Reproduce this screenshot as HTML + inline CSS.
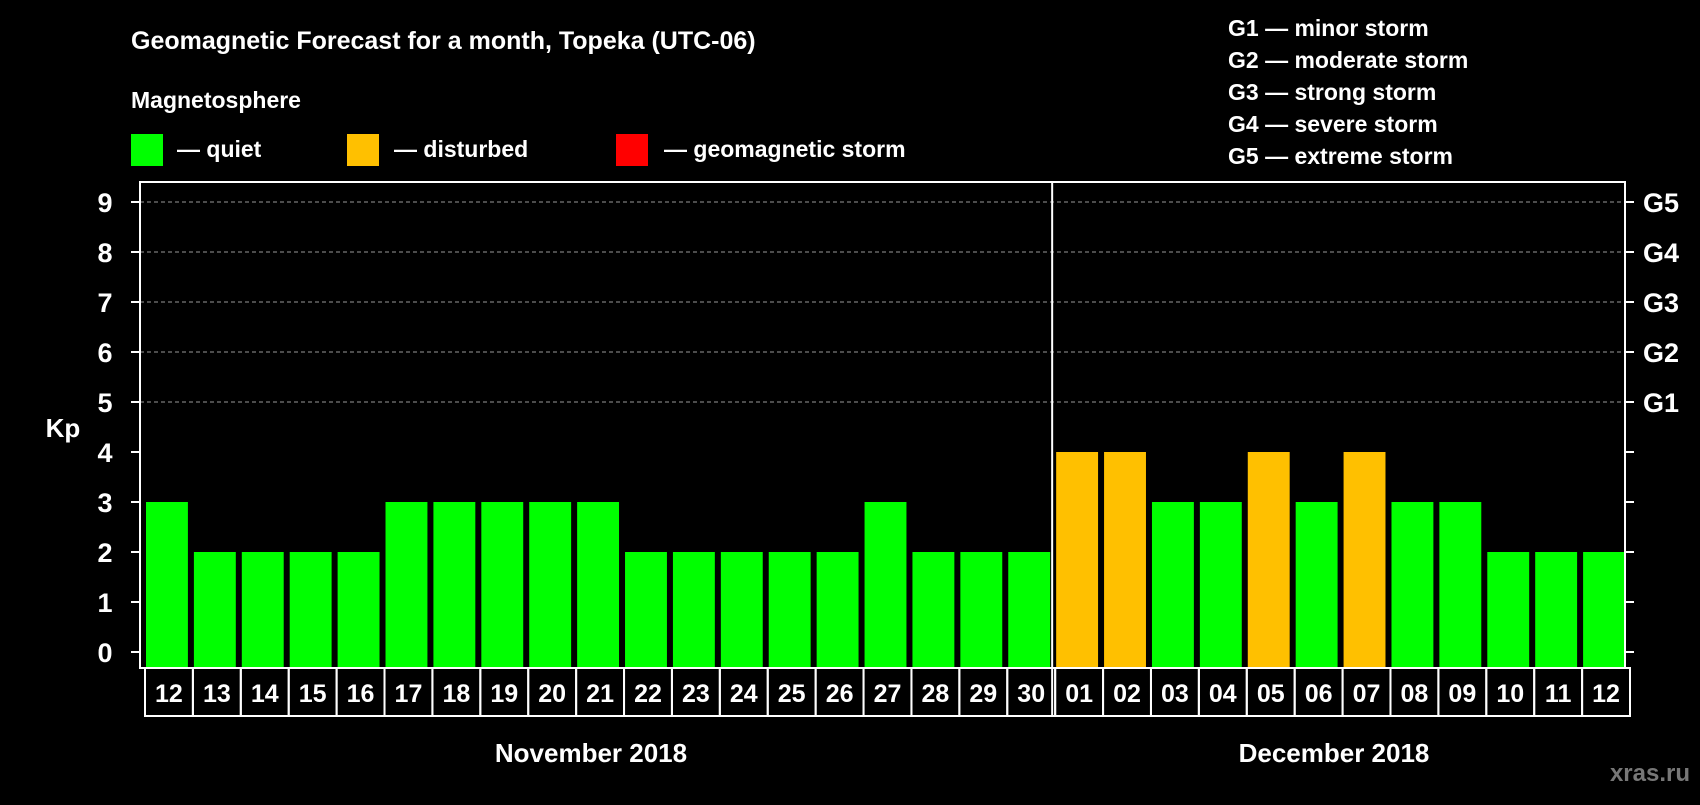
<!DOCTYPE html>
<html><head><meta charset="utf-8"><style>
body{margin:0;background:#000;width:1700px;height:800px;overflow:hidden}
svg{font-family:"Liberation Sans",sans-serif;font-weight:bold}
</style></head><body>
<svg width="1700" height="800">
<rect width="1700" height="800" fill="#000"/>
<text x="131" y="49" fill="#fff" font-size="25">Geomagnetic Forecast for a month, Topeka (UTC-06)</text>
<text x="131" y="108" fill="#fff" font-size="23">Magnetosphere</text>
<g><rect x="131" y="134" width="32" height="32" fill="#00ff00"/><text x="177" y="157" fill="#fff" font-size="23">— quiet</text></g>
<g><rect x="347" y="134" width="32" height="32" fill="#ffc000"/><text x="394" y="157" fill="#fff" font-size="23">— disturbed</text></g>
<g><rect x="616" y="134" width="32" height="32" fill="#ff0000"/><text x="664" y="157" fill="#fff" font-size="23">— geomagnetic storm</text></g>
<g fill="#fff" font-size="23">
<text x="1228" y="36">G1 — minor storm</text>
<text x="1228" y="68">G2 — moderate storm</text>
<text x="1228" y="100">G3 — strong storm</text>
<text x="1228" y="132">G4 — severe storm</text>
<text x="1228" y="164">G5 — extreme storm</text>
</g>
<text x="63" y="437" fill="#fff" font-size="26" text-anchor="middle">Kp</text>
<g id="plot"></g>
<text x="591" y="762" fill="#fff" font-size="26" text-anchor="middle">November 2018</text>
<text x="1334" y="762" fill="#fff" font-size="26" text-anchor="middle">December 2018</text>
<text x="1690" y="781" fill="#777" font-size="24" text-anchor="end">xras.ru</text>
</svg>
<script>
const days=["12","13","14","15","16","17","18","19","20","21","22","23","24","25","26","27","28","29","30","01","02","03","04","05","06","07","08","09","10","11","12"];
const kp=[3,2,2,2,2,3,3,3,3,3,2,2,2,2,2,3,2,2,2,4,4,3,3,4,3,4,3,3,2,2,2];
const yTicks=[0,1,2,3,4,5,6,7,7,8,9].filter((v,i,a)=>a.indexOf(v)===i);
const gLabels=["G1","G2","G3","G4","G5"];
const L=140,R=1625,T=182,B=668;
const y=v=>652-v*50;
const slot=(R-L)/days.length;
const x=i=>L+i*slot;
const NS="http://www.w3.org/2000/svg";
const g=document.getElementById('plot');
function mk(t,a){const e=document.createElementNS(NS,t);for(const k in a)e.setAttribute(k,a[k]);g.appendChild(e);return e;}
yTicks.forEach(v=>{
 if(v>=5){const l=mk('line',{x1:L,x2:R,y1:y(v),y2:y(v),stroke:'#999','stroke-dasharray':'4,3','stroke-width':1});
 
 }
 mk('line',{x1:L-9,x2:L,y1:y(v),y2:y(v),stroke:'#fff','stroke-width':2});
 mk('line',{x1:R,x2:R+9,y1:y(v),y2:y(v),stroke:'#fff','stroke-width':2});
 const t=mk('text',{x:105,y:y(v)+10,fill:'#fff','font-size':27,'text-anchor':'middle'});t.textContent=v;
 
 
 if(v>=5){const r=mk('text',{x:1643,y:y(v)+10,fill:'#fff','font-size':27});r.textContent=gLabels[v-5];
 
 }
});
kp.forEach((v,i)=>{
 const c=v>=5?'#ff0000':(v>=4?'#ffc000':'#00ff00');
 const b=mk('rect',{x:x(i)+6,y:y(v),width:slot-6,height:B-y(v),fill:c});
 
 
 const bx=mk('rect',{x:x(i)+5,y:B,width:slot,height:48,fill:'none',stroke:'#fff','stroke-width':2});
 const t=mk('text',{x:x(i)+5+slot/2,y:B+34,fill:'#fff','font-size':25,'text-anchor':'middle'});t.textContent=days[i];
 
 
});
const f=mk('rect',{x:L,y:T,width:R-L,height:B-T,fill:'none',stroke:'#fff','stroke-width':2});


const dv=mk('line',{x1:x(19)+2,x2:x(19)+2,y1:T,y2:B+48,stroke:'#fff','stroke-width':2});


</script>
</body></html>
